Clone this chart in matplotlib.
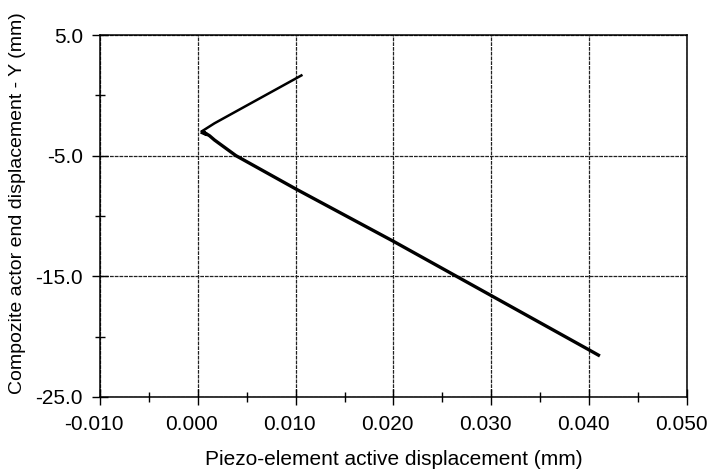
import matplotlib
matplotlib.use("Agg")
import matplotlib.pyplot as plt
import matplotlib.transforms as mtrans
from matplotlib.ticker import MultipleLocator, FormatStrFormatter

plt.rcParams['font.family'] = ['Liberation Sans', 'DejaVu Sans']

# trajectory: piezo displacement (mm) vs actor end displacement Y (mm)
# upper branch (start -> turning point)
x_up = [0.0107, 0.0051, 0.0017, 0.0003]
y_up = [1.70, -0.80, -2.32, -3.04]
# lower branch (turning point -> end)
x_down = [0.0003, 0.0009, 0.0005, 0.0012, 0.0017, 0.0039,
          0.0100, 0.0200, 0.0300, 0.0400, 0.0411]
y_down = [-3.04, -3.25, -3.00, -3.35, -3.70, -5.00,
          -7.75, -12.10, -16.60, -21.10, -21.60]

xticks = [-0.010, 0.000, 0.010, 0.020, 0.030, 0.040, 0.050]
yticks = [-25.0, -15.0, -5.0, 5.0]

fig = plt.figure(figsize=(7.08, 4.73), dpi=100)
ax = fig.add_axes([0.1412, 0.1607, 0.8291, 0.7653])

ax.plot(x_up, y_up, color='black', lw=1.8, solid_capstyle='butt')
ax.plot(x_down, y_down, color='black', lw=2.4, solid_capstyle='butt')

ax.set_xlim(-0.010, 0.050)
ax.set_ylim(-25.0, 5.0)
ax.set_xticks(xticks)
ax.set_yticks(yticks)
ax.xaxis.set_major_formatter(FormatStrFormatter('%.3f'))
ax.yaxis.set_major_formatter(FormatStrFormatter('%.1f'))
ax.xaxis.set_minor_locator(MultipleLocator(0.005))
ax.yaxis.set_minor_locator(MultipleLocator(5.0))

ax.grid(True, which='major', color='#222222', lw=0.9, linestyle=(0, (3, 0.8)))
ax.tick_params(axis='x', which='major', direction='inout', length=11.5, width=1,
               labelsize=15, pad=7)
ax.tick_params(axis='y', which='major', direction='inout', length=11.5, width=1,
               labelsize=15, pad=6.5)
ax.tick_params(which='minor', direction='inout', length=6.5, width=1)
for s in ax.spines.values():
    s.set_linewidth(1.1)

ax.set_xlabel('Piezo-element active displacement (mm)', fontsize=15, labelpad=11.5)
ax.set_ylabel('Compozite actor end displacement - Y (mm)', fontsize=14)
ax.yaxis.set_label_coords(-0.126, 0.535)

shift = mtrans.ScaledTranslation(-6 / 100, 0, fig.dpi_scale_trans)
for t in ax.xaxis.get_major_ticks():
    t.label1.set_transform(t.label1.get_transform() + shift)

fig.savefig('out.png', dpi=100)
